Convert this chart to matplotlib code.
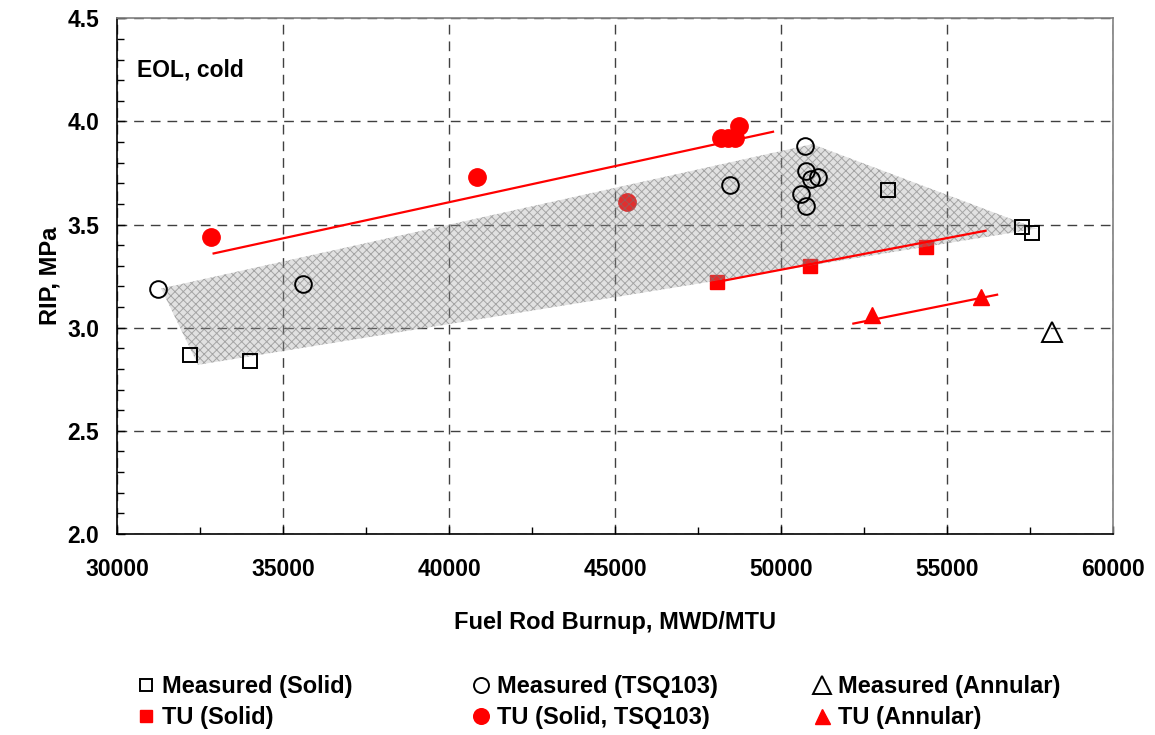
import numpy as np
import matplotlib.pyplot as plt
from matplotlib.patches import Polygon
from matplotlib.ticker import MultipleLocator

plt.rcParams['font.family'] = ['Liberation Sans', 'DejaVu Sans']
plt.rcParams['font.weight'] = 'bold'
plt.rcParams['hatch.linewidth'] = 0.7

# Measured data
meas_solid_x = [32200, 34000, 53200, 57240, 57560]
meas_solid_y = [2.87, 2.84, 3.67, 3.49, 3.46]

meas_tsq_x = [31230, 35580, 48460, 50700, 50735, 51100, 50900, 50580, 50735]
meas_tsq_y = [3.19, 3.21, 3.69, 3.88, 3.76, 3.73, 3.72, 3.65, 3.59]

meas_ann_x = [58150]
meas_ann_y = [2.98]

# TU predictions
tu_solid_x = [48050, 50860, 54350]
tu_solid_y = [3.22, 3.30, 3.39]

tu_tsq_x = [32810, 40830, 45350, 48180, 48400, 48600, 48730]
tu_tsq_y = [3.44, 3.73, 3.61, 3.92, 3.92, 3.92, 3.98]

tu_ann_x = [52740, 56000]
tu_ann_y = [3.06, 3.15]

# trend lines of the TU predictions
trend_tsq_x = [32900, 49750]
trend_tsq_y = [3.36, 3.95]
trend_solid_x = [48000, 56150]
trend_solid_y = [3.22, 3.47]
trend_ann_x = [52170, 56500]
trend_ann_y = [3.02, 3.16]

# envelope of the measured data (shaded band)
band_x = [31320, 50930, 57700, 32430]
band_y = [3.19, 3.89, 3.48, 2.82]

fig = plt.figure(figsize=(11.55, 7.35), dpi=100)
ax = fig.add_axes([0.1016, 0.2735, 0.8623, 0.7016])

red = '#ff0000'

# TU markers sit under the band, like in the original
l_tu_s, = ax.plot(tu_solid_x, tu_solid_y, 's', color=red, ms=10, mec=red, zorder=2)
l_tu_t, = ax.plot(tu_tsq_x, tu_tsq_y, 'o', color=red, ms=12.5, mec=red, zorder=2)
l_tu_a, = ax.plot(tu_ann_x, tu_ann_y, '^', color=red, ms=12, mec=red, zorder=2)

band = Polygon(np.column_stack([band_x, band_y]), closed=True,
               facecolor=(0.62, 0.62, 0.62, 0.3), edgecolor=(0.45, 0.45, 0.45, 0.55),
               hatch='xxxx', linewidth=0, zorder=3)
ax.add_patch(band)

ax.plot(trend_tsq_x, trend_tsq_y, '-', color=red, lw=1.6, zorder=4)
ax.plot(trend_solid_x, trend_solid_y, '-', color=red, lw=1.6, zorder=4)
ax.plot(trend_ann_x, trend_ann_y, '-', color=red, lw=1.6, zorder=4)

l_m_s, = ax.plot(meas_solid_x, meas_solid_y, 's', mfc='none', mec='black', ms=9.5, mew=1.4, zorder=5)
l_m_t, = ax.plot(meas_tsq_x, meas_tsq_y, 'o', mfc='none', mec='black', ms=12, mew=1.4, zorder=5)
l_m_a, = ax.plot(meas_ann_x, meas_ann_y, '^', mfc='none', mec='black', ms=14, mew=1.4, zorder=5)

ax.set_xlim(30000, 60000)
ax.set_ylim(2.0, 4.5)
ax.xaxis.set_major_locator(MultipleLocator(5000))
ax.xaxis.set_minor_locator(MultipleLocator(2500))
ax.yaxis.set_major_locator(MultipleLocator(0.5))
ax.yaxis.set_minor_locator(MultipleLocator(0.1))
ax.yaxis.set_major_formatter(plt.FormatStrFormatter('%.1f'))
ax.tick_params(which='both', direction='in', labelsize=16.5)
ax.tick_params(which='major', length=6, width=1)
ax.tick_params(which='minor', length=5, width=1)
ax.tick_params(axis='x', which='major', pad=17)
ax.tick_params(axis='y', which='major', pad=13)
ax.grid(True, which='major', ls=(0, (7, 5)), color='#404040', lw=1)
ax.set_axisbelow(True)
for s in ['left', 'bottom']:
    ax.spines[s].set_color('black')
    ax.spines[s].set_linewidth(1.2)
for s in ['top', 'right']:
    ax.spines[s].set_color('#808080')
    ax.spines[s].set_linewidth(1.2)

ax.set_xlabel('Fuel Rod Burnup, MWD/MTU', fontsize=17, fontweight='bold', labelpad=22)
ax.set_ylabel('RIP, MPa', fontsize=17, fontweight='bold', labelpad=4)
ax.text(0.0198, 0.9, 'EOL, cold', transform=ax.transAxes, fontsize=16.5,
        fontweight='bold', va='center', ha='left')

# legend: three columns placed by hand
cols = [([l_m_s, l_tu_s], ['Measured (Solid)', 'TU (Solid)'], 138),
        ([l_m_t, l_tu_t], ['Measured (TSQ103)', 'TU (Solid, TSQ103)'], 473),
        ([l_m_a, l_tu_a], ['Measured (Annular)', 'TU (Annular)'], 814)]
for h, lab, xpix in cols:
    fig.legend(h, lab, loc='upper left', bbox_to_anchor=(xpix / 1155, 1 - 675 / 735),
               frameon=False, markerscale=0.9, handlelength=0.7,
               handletextpad=0.3, labelspacing=0.33, borderpad=0, borderaxespad=0,
               prop={'weight': 'bold', 'size': 17})

plt.savefig('out.png', dpi=100)
